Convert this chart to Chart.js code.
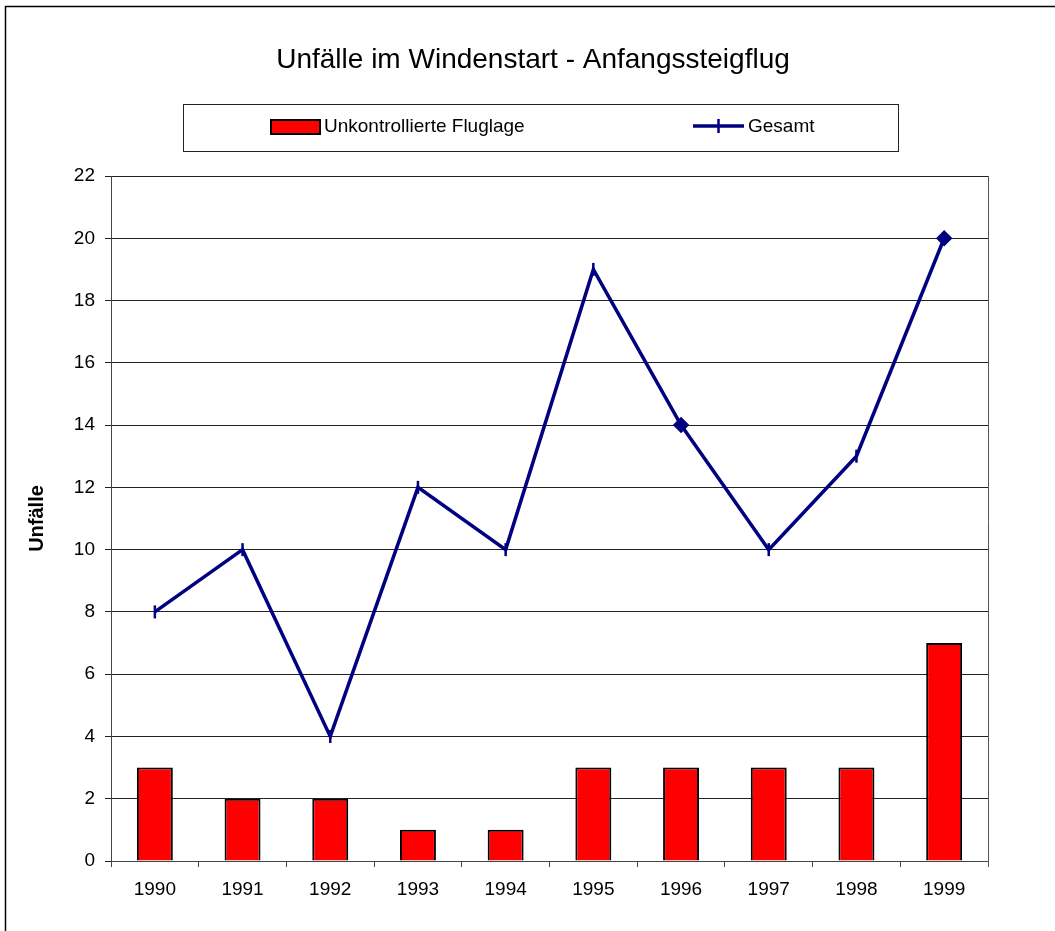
<!DOCTYPE html>
<html>
<head>
<meta charset="utf-8">
<script src="https://cdn.jsdelivr.net/npm/chart.js@4/dist/chart.umd.min.js"></script>
<style>
  html, body { margin: 0; padding: 0; background: #fff; }
  #wrap { width: 1055px; height: 931px; position: relative; }
</style>
</head>
<body>
<div id="wrap"><canvas id="chartUnfaelle" width="1055" height="931"></canvas></div>
<script>
// Daten
const jahre = ["1990", "1991", "1992", "1993", "1994", "1995", "1996", "1997", "1998", "1999"];
const unkontrolliert = [3, 2, 2, 1, 1, 3, 3, 3, 3, 7];
const gesamt = [8, 10, 4, 12, 10, 19, 14, 10, 13, 20];
const yTicks = [0, 2, 4, 6, 8, 10, 12, 14, 16, 18, 20, 22];

const titel = "Unfälle im Windenstart - Anfangssteigflug";
const FONT = "'Liberation Sans', Arial, sans-serif";

// Rahmen, Titel und Legende selbst zeichnen
const rahmenPlugin = {
    id: "rahmen",
    beforeDraw(chart) {
        const ctx = chart.ctx;
        ctx.save();
        ctx.fillStyle = "#fff";
        ctx.fillRect(0, 0, chart.width, chart.height);
        ctx.strokeStyle = "#000";
        ctx.lineWidth = 1.5;
        ctx.strokeRect(5.5, 6.5, chart.width + 20, chart.height + 20);
        ctx.restore();
    },
    afterDraw(chart) {
        const ctx = chart.ctx;
        const area = chart.chartArea;
        ctx.save();
        // rechte Kante der Zeichenfläche
        ctx.strokeStyle = "#555";
        ctx.lineWidth = 1;
        ctx.beginPath();
        ctx.moveTo(Math.round(area.right) + 0.5, area.top);
        ctx.lineTo(Math.round(area.right) + 0.5, area.bottom + 6);
        ctx.stroke();

        // Titel
        ctx.fillStyle = "#000";
        ctx.font = "28px " + FONT;
        ctx.textAlign = "center";
        ctx.textBaseline = "middle";
        ctx.fillText(titel, 533, 60);

        // Legende
        ctx.strokeStyle = "#222";
        ctx.lineWidth = 1;
        ctx.strokeRect(183.5, 104.5, 715, 47);

        const ds = chart.data.datasets;
        ctx.font = "19px " + FONT;
        ctx.textAlign = "left";

        // Balken-Eintrag
        ctx.fillStyle = ds[0].backgroundColor;
        ctx.fillRect(271, 120, 49, 14);
        ctx.strokeStyle = "#000";
        ctx.lineWidth = 2;
        ctx.strokeRect(271, 120, 49, 14);
        ctx.fillStyle = "#000";
        ctx.fillText(ds[0].label, 324, 127);

        // Linien-Eintrag
        ctx.strokeStyle = ds[1].borderColor;
        ctx.lineWidth = 3.5;
        ctx.beginPath();
        ctx.moveTo(693, 126);
        ctx.lineTo(744, 126);
        ctx.stroke();
        ctx.lineWidth = 2.5;
        ctx.beginPath();
        ctx.moveTo(718.5, 119);
        ctx.lineTo(718.5, 133);
        ctx.stroke();
        ctx.fillStyle = "#000";
        ctx.fillText(ds[1].label, 748, 127);
        ctx.restore();
    }
};

const punktStil = ["line", "line", "line", "line", "line", "line", "rectRot", "line", "line", "rectRot"];
const punktDrehung = [90, 90, 90, 90, 90, 90, 0, 90, 90, 0];

const ctx = document.getElementById("chartUnfaelle").getContext("2d");

new Chart(ctx, {
    type: "bar",
    data: {
        labels: jahre,
        datasets: [{
                type: "bar",
                label: "Unkontrollierte Fluglage",
                data: unkontrolliert,
                backgroundColor: "#ff0000",
                borderColor: "#000",
                borderWidth: 2,
                barPercentage: 0.41,
                categoryPercentage: 1,
                order: 2,
            },
            {
                type: "line",
                label: "Gesamt",
                data: gesamt,
                borderColor: "#000080",
                backgroundColor: "#000080",
                borderWidth: 3.5,
                tension: 0,
                fill: false,
                pointStyle: punktStil,
                pointRotation: punktDrehung,
                pointRadius: 6.5,
                pointBorderWidth: 2.5,
                pointBorderColor: "#000080",
                pointBackgroundColor: "#000080",
                order: 1,
            },
        ],
    },
    options: {
        responsive: false,
        animation: false,
        devicePixelRatio: 1,
        layout: {
            padding: { top: 176, right: 67, bottom: 0, left: 0 },
        },
        plugins: {
            legend: { display: false },
            title: { display: false },
            tooltip: { enabled: false },
        },
        scales: {
            x: {
                offset: true,
                grid: {
                    offset: true,
                    drawOnChartArea: false,
                    drawTicks: true,
                    tickLength: 6,
                    color: "#444",
                },
                border: { color: "#444", width: 1 },
                ticks: {
                    color: "#000",
                    padding: 11,
                    maxRotation: 0,
                    font: { family: FONT, size: 19 },
                },
                afterFit(scale) {
                    scale.height = 70;
                },
            },
            y: {
                min: 0,
                max: 22,
                afterBuildTicks(scale) {
                    scale.ticks = yTicks.map((v) => ({ value: v }));
                },
                grid: {
                    color: "#222",
                    lineWidth: 1,
                    drawTicks: true,
                    tickLength: 6,
                },
                border: { color: "#444", width: 1 },
                ticks: {
                    color: "#000",
                    padding: 10,
                    font: { family: FONT, size: 19 },
                },
                title: {
                    display: true,
                    text: "Unfälle",
                    color: "#000",
                    padding: { top: 25, bottom: 0 },
                    font: { family: FONT, size: 20, weight: "bold" },
                },
                afterFit(scale) {
                    scale.width = 111;
                },
            },
        },
    },
    plugins: [rahmenPlugin],
});
</script>
</body>
</html>
